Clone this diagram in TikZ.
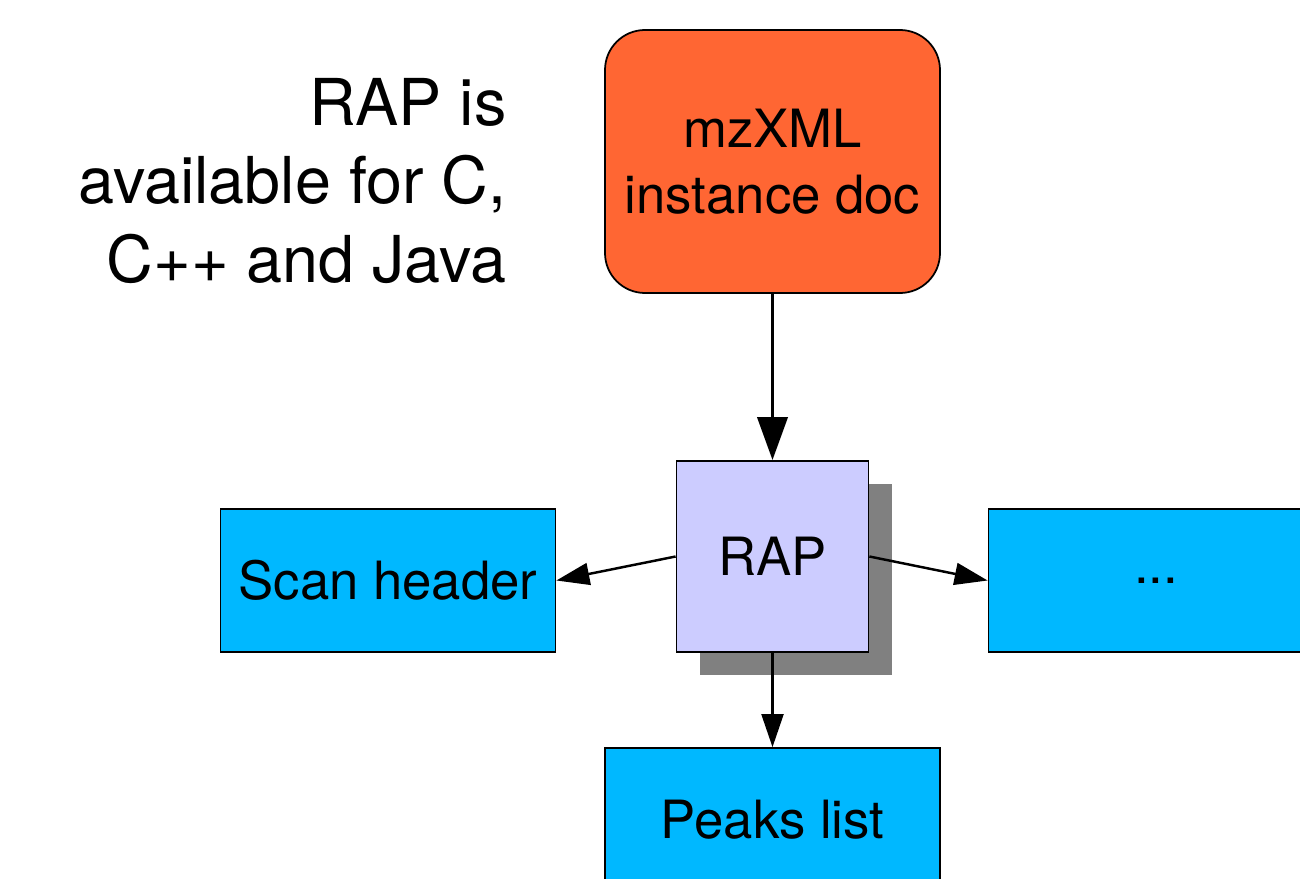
\documentclass[tikz,border=0pt]{standalone}
\usepackage{fontspec}
\setmainfont{TeX Gyre Heros}
\usetikzlibrary{shapes.geometric, arrows.meta, shadows}
\definecolor{docorange}{HTML}{FF6633}
\definecolor{raplilac}{HTML}{CCCCFF}
\definecolor{outblue}{HTML}{00B8FF}

\begin{document}
\begin{tikzpicture}[node distance = 7.9cm,auto,
    outbox/.style={draw,rectangle,line width=1pt,fill=outblue,inner sep=0pt,
        minimum width=6.7cm,minimum height=2.86cm,text centered,
        font=\fontsize{30}{36}\selectfont},
    bigtip/.style={line width=2.2pt,-{Triangle[length=0.86cm,width=0.6cm]}},
    smalltip/.style={line width=1.4pt,-{Triangle[length=0.66cm,width=0.44cm]}}]
        \useasboundingbox (0,0) rectangle (26,-17.58);
        \node[align=right,anchor=east,inner sep=0pt,
        font=\fontsize{36.8}{44.8}\selectfont,
        name=langs] at (10.14,-3.62) {RAP is\\available for C,\\C++ and Java};
        \node[draw,rectangle,rounded corners=0.8cm,line width=1pt,fill=docorange,
        minimum width=6.7cm,minimum height=5.26cm,inner sep=0pt,align=center,
        font=\fontsize{30}{37.5}\selectfont,name=mzxml] at (15.45,-3.23)
        {mzXML\\instance doc};
        \node[draw,rectangle,line width=1pt,fill=raplilac,minimum width=3.84cm,
        minimum height=3.82cm,inner sep=0pt,font=\fontsize{30}{36}\selectfont,
        drop shadow={shadow xshift=0.46cm,shadow yshift=-0.46cm,fill=black!50,opacity=1},
        below of=mzxml] (rap) {RAP};
        \node[outbox, left of=rap, node distance=7.69cm, yshift=-0.48cm] (scan) {Scan header};
        \node[outbox, right of=rap, node distance=7.67cm, yshift=-0.48cm] (more) {...};
        \node[outbox, below of=rap, node distance=5.26cm] (peaks) {Peaks list};
        \draw  [bigtip] (mzxml) -- (rap);
        \draw  [smalltip] (rap.west) -- (scan.east);
        \draw  [smalltip] (rap.east) -- (more.west);
        \draw  [smalltip,line width=1.2pt] (rap.south) -- (peaks.north);
    \end{tikzpicture}
\end{document}
